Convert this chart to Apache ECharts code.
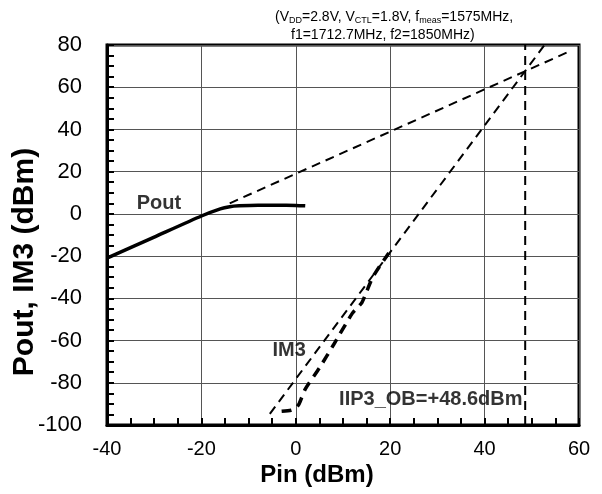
<!DOCTYPE html>
<html>
<head>
<meta charset="utf-8">
<script src="https://cdn.jsdelivr.net/npm/echarts@6/dist/echarts.min.js"></script>
<style>
	html, body { margin: 0; padding: 0; background: #fff; }
	#main { width: 602px; height: 494px; }
</style>
</head>
<body>
<div id="main"></div>
<script>
// 坐标轴刻度
const xTicks = [-40, -20, 0, 20, 40, 60];
const yTicks = [-100, -80, -60, -40, -20, 0, 20, 40, 60, 80];

// Pout 实测
const poutX = [-40, -30, -20, -16, -14, -12, -8, -4, 0, 2];
const poutY = [-21, -11, -1, 2.4, 3.4, 3.8, 4.1, 4.1, 4, 3.8];
// Pout 外推
const poutExtX = [-14, 58.3];
const poutExtY = [5, 77.3];
// IM3 实测
const im3X = [-3, -1, 0, 0.7, 2, 5, 8, 12, 14, 16.3, 19.7];
const im3Y = [-93.5, -93, -92, -90, -83, -73, -62, -47, -42, -30, -18.5];
// IM3 外推
const im3ExtX = [-5.5, 52.7];
const im3ExtY = [-94.7, 80];
// IIP3 竖线
const iip3 = 48.6;
const iip3Y = [-100, 80];

// 标注文字
const notes = [
	[-29, 5, 'Pout'],
	[-1.4, -64.5, 'IM3'],
	[28.6, -88, 'IIP3_OB=+48.6dBm']
];

const font = 'Liberation Sans, Arial, sans-serif';

function zip(xs, ys) {
	return xs.map((x, i) => [x, ys[i]]);
}

function getOption() {
	const tick = { show: true, inside: true, length: 7, lineStyle: { color: '#000', width: 2 } };
	const minor = { show: true, splitNumber: 4, length: 7, lineStyle: { color: '#000', width: 2 } };
	return {
		animation: false,
		title: [
			{
				left: 270,
				top: 4,
				text: '(V{s|DD}=2.8V, V{s|CTL}=1.8V, f{s|meas}=1575MHz,',
				textStyle: {
					fontFamily: font,
					fontSize: 14,
					fontWeight: 'normal',
					color: '#000',
					rich: {
						s: { fontFamily: font, fontSize: 9, color: '#000', padding: [7, 0, 0, 0] }
					}
				}
			},
			{
				left: 286,
				top: 23,
				text: 'f1=1712.7MHz, f2=1850MHz)',
				textStyle: { fontFamily: font, fontSize: 14, fontWeight: 'normal', color: '#000' }
			}
		],
		grid: {
			left: 107,
			right: 23,
			top: 45,
			bottom: 69,
			outerBoundsMode: 'none',
			containLabel: false,
			show: true,
			borderColor: '#000',
			borderWidth: 3
		},
		xAxis: {
			type: 'value',
			min: xTicks[0],
			max: xTicks[xTicks.length - 1],
			interval: 20,
			name: 'Pin (dBm)',
			nameLocation: 'middle',
			nameGap: 38,
			nameMoveOverlap: false,
			nameTextStyle: { fontFamily: font, fontSize: 24, fontWeight: 'bold', color: '#000', padding: [0, 52, 0, 0] },
			axisLine: { onZero: false, lineStyle: { color: '#000', width: 3 } },
			axisTick: tick,
			minorTick: minor,
			axisLabel: { fontFamily: font, fontSize: 20, color: '#000', margin: 14 },
			splitLine: { lineStyle: { color: '#555', width: 1 } }
		},
		yAxis: {
			type: 'value',
			min: yTicks[0],
			max: yTicks[yTicks.length - 1],
			interval: 20,
			name: 'Pout, IM3 (dBm)',
			nameLocation: 'middle',
			nameGap: 67,
			nameMoveOverlap: false,
			nameTextStyle: { fontFamily: font, fontSize: 30, fontWeight: 'bold', color: '#000', padding: [0, 54, 0, 0] },
			axisLine: { onZero: false, lineStyle: { color: '#000', width: 3 } },
			axisTick: tick,
			minorTick: minor,
			axisLabel: { fontFamily: font, fontSize: 22, color: '#000', margin: 25 },
			splitLine: { lineStyle: { color: '#555', width: 1 } }
		},
		series: [
			{
				name: 'Pout',
				type: 'line',
				data: zip(poutX, poutY),
				showSymbol: false,
				smooth: 0.2,
				lineStyle: { color: '#000', width: 3.5 }
			},
			{
				name: 'Pout ext',
				type: 'line',
				data: zip(poutExtX, poutExtY),
				showSymbol: false,
				lineStyle: { color: '#000', width: 2, type: [9, 6] }
			},
			{
				name: 'IM3',
				type: 'line',
				data: zip(im3X, im3Y),
				showSymbol: false,
				smooth: 0.2,
				lineStyle: { color: '#000', width: 3.5, type: [10, 7] }
			},
			{
				name: 'IM3 ext',
				type: 'line',
				data: zip(im3ExtX, im3ExtY),
				showSymbol: false,
				lineStyle: { color: '#000', width: 2, type: [9, 6] }
			},
			{
				name: 'IIP3',
				type: 'line',
				data: iip3Y.map(y => [iip3, y]),
				showSymbol: false,
				lineStyle: { color: '#000', width: 2, type: [9, 6] }
			},
			{
				//标注
				name: 'notes',
				type: 'scatter',
				symbolSize: 0,
				data: notes,
				label: {
					show: true,
					position: 'inside',
					formatter: p => p.data[2],
					fontFamily: font,
					fontSize: 20,
					fontWeight: 'bold',
					color: '#000'
				}
			}
		]
	};
}

const chart = echarts.init(document.getElementById('main'), null, { renderer: 'canvas' });
chart.setOption(getOption());
</script>
</body>
</html>
